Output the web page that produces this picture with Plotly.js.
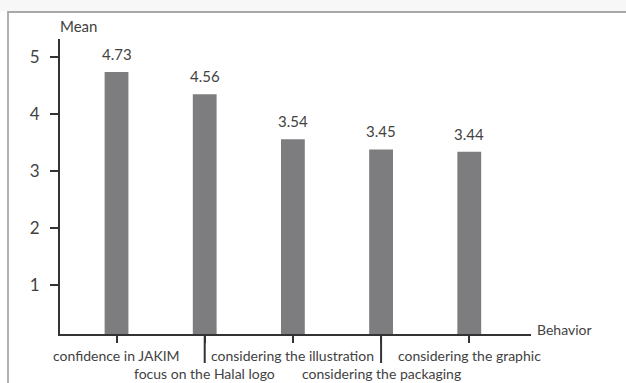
<!DOCTYPE html>
<html>
<head>
<meta charset="utf-8">
<script src="https://cdn.plot.ly/plotly-3.0.1.min.js"></script>
<style>
html,body{margin:0;padding:0;background:#fff;}
#wrap{position:relative;width:626px;height:383px;overflow:hidden;}
#chart{width:626px;height:383px;}
#frame{position:absolute;left:7px;top:11px;width:700px;height:500px;border-top:2px solid #a8a8a8;border-left:2px solid #b0b0b0;pointer-events:none;}
#topstrip{position:absolute;left:0;top:0;width:626px;height:11px;background:#f7f7f7;pointer-events:none;}
</style>
</head>
<body>
<div id="wrap">
<div id="chart"></div>
<div id="topstrip"></div>
<div id="frame"></div>
</div>
<script>
const categories = ["confidence in JAKIM", "focus on the Halal logo", "considering the illustration", "considering the packaging", "considering the graphic"];
const barHeights = [4.74, 4.35, 3.56, 3.38, 3.34];
const valueLabels = ["4.73", "4.56", "3.54", "3.45", "3.44"];
const yTickVals = [1, 2, 3, 4, 5];
const yTickText = ["1", "2", "3", "4", "5"];
const labelRow = [0, 1, 0, 1, 0];

const FONT = "Lato, 'Open Sans', sans-serif";
const TXT = "#424242";

const xs = categories.map((c, i) => i);

const trace = {
  type: "bar",
  x: xs,
  y: barHeights,
  base: 0,
  width: 0.27,
  marker: {color: "#7d7d80", line: {width: 0}},
  hoverinfo: "skip"
};

const annotations = [];
valueLabels.forEach((t, i) => {
  annotations.push({
    x: xs[i], y: barHeights[i], xref: "x", yref: "y",
    text: t, showarrow: false, xanchor: "center", yanchor: "bottom", yshift: 7,
    font: {family: FONT, size: 15, color: TXT}
  });
});
categories.forEach((c, i) => {
  annotations.push({
    x: xs[i], y: 0, xref: "x", yref: "paper",
    text: c, showarrow: false, xanchor: "center", yanchor: "top",
    yshift: labelRow[i] === 0 ? -11 : -29,
    font: {family: FONT, size: 14, color: TXT}
  });
});
annotations.push({
  x: 0, y: 1, xref: "paper", yref: "paper", text: "Mean", showarrow: false,
  xanchor: "left", yanchor: "bottom", xshift: -2, yshift: 2,
  font: {family: FONT, size: 15, color: TXT}
});
annotations.push({
  x: 1, y: 0, xref: "paper", yref: "paper", text: "Behavior", showarrow: false,
  xanchor: "left", yanchor: "middle", xshift: 4, yshift: 5,
  font: {family: FONT, size: 14, color: TXT}
});

const shapes = [];
categories.forEach((c, i) => {
  if (labelRow[i] === 1) {
    shapes.push({
      type: "line", xref: "x", yref: "paper",
      x0: xs[i], x1: xs[i], ysizemode: "pixel", yanchor: 0, y0: 0, y1: -29,
      line: {color: "#333", width: 2}
    });
  }
});

const layout = {
  width: 626, height: 383,
  margin: {l: 60, r: 95, t: 39, b: 49, pad: 0},
  paper_bgcolor: "#fff", plot_bgcolor: "#fff",
  showlegend: false,
  xaxis: {
    range: [-0.641, 4.70], showgrid: false, zeroline: false,
    showline: true, linecolor: "#333", linewidth: 2,
    tickvals: xs, ticktext: categories.map(() => ""),
    ticks: "outside", ticklen: 7, tickwidth: 2, tickcolor: "#333",
    showticklabels: false, fixedrange: true
  },
  yaxis: {
    range: [0.14, 5.32], showgrid: false, zeroline: false,
    showline: true, linecolor: "#333", linewidth: 2,
    tickvals: yTickVals, ticktext: yTickText,
    ticks: "outside", ticklen: 8, tickwidth: 2, tickcolor: "#333",
    ticklabelstandoff: 7,
    tickfont: {family: FONT, size: 17, color: TXT}, fixedrange: true
  },
  annotations: annotations,
  shapes: shapes
};

Plotly.newPlot("chart", [trace], layout, {displayModeBar: false, staticPlot: true});
</script>
</body>
</html>
